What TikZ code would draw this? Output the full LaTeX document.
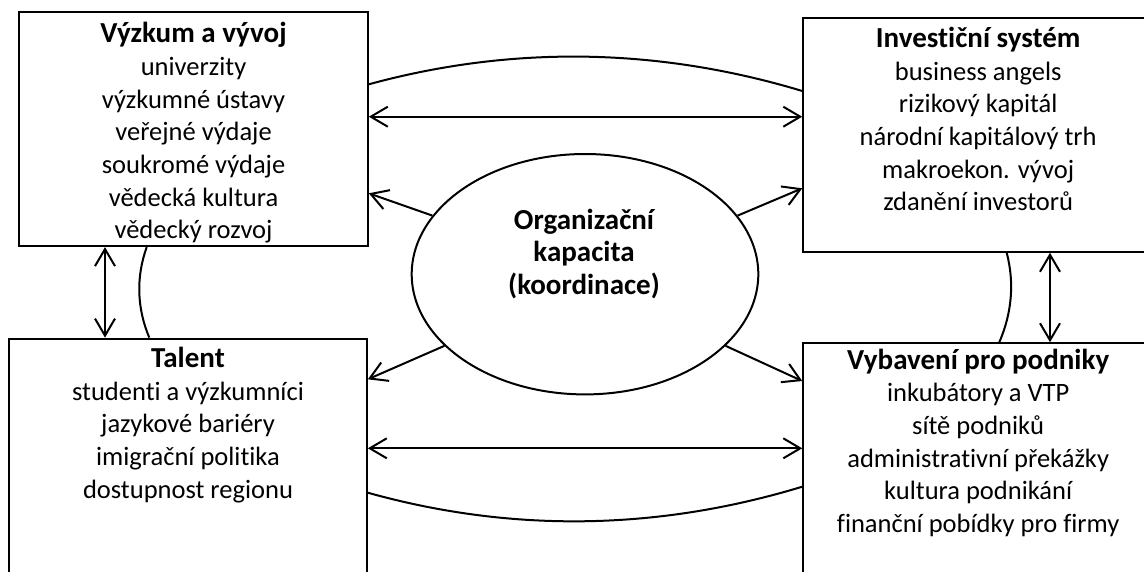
\documentclass[tikz,border=0pt]{standalone}
\usepackage{fontspec}
\setmainfont{Carlito}[Ligatures=NoCommon]
\usetikzlibrary{arrows.meta,shapes.geometric}
% bold heading of a box; the strut fixes the height of the first line
\newcommand\boxtitle[1]{\rule{0pt}{24pt}{\fontsize{29}{32.7}\selectfont\bfseries #1}}
\begin{document}
\lineskiplimit=-100pt
\begin{tikzpicture}[x=1pt,y=-1pt,
  box/.style={draw, line width=2.2pt, rectangle, inner sep=0pt},
  txt/.style={align=center, inner sep=0pt, anchor=north,
    font=\fontsize{26.5}{32.7}\selectfont},
  link/.style={line width=2pt},
  tip/.tip={Straight Barb[length=17pt,width=20pt]},
  dbl/.style={link, tip-tip},
  one/.style={link, -tip},
]
\useasboundingbox (0,0) rectangle (1144,571);
\clip (0,0) rectangle (1144,571);

% the four boxes
\node[box, minimum width=348.4pt, minimum height=234.3pt] (rd)  at (193.5,128.85) {};
\node[box, minimum width=349.7pt, minimum height=233.4pt] (inv) at (978.2,135) {};
\node[box, minimum width=357.4pt, minimum height=251.3pt] (tal) at (188,464.35) {};
\node[box, minimum width=349.7pt, minimum height=246.7pt] (vyb) at (978.2,466.65) {};

% central ellipse
\node[draw, ellipse, line width=2pt, inner sep=0pt,
      minimum width=346.6pt, minimum height=240.4pt] (org) at (585,274.2) {};

% texts
\node[txt] (rdt) at (193.5,18.5) {\boxtitle{Výzkum a vývoj}\\
  univerzity\\ výzkumné ústavy\\ veřejné výdaje\\ soukromé výdaje\\
  vědecká kultura\\ vědecký rozvoj};
\node[txt] (invt) at (978.2,23.2) {\boxtitle{Investiční systém}\\
  business angels\\ rizikový kapitál\\ národní kapitálový trh\\
  makroekon. vývoj\\ zdanění investorů};
\node[txt] (talt) at (188,343.2) {\boxtitle{Talent}\\
  studenti a výzkumníci\\ jazykové bariéry\\ imigrační politika\\
  dostupnost regionu};
\node[txt] (vybt) at (978.2,344.8) {\boxtitle{Vybavení pro podniky}\\
  inkubátory a VTP\\ sítě podniků\\ administrativní překážky\\
  kultura podnikání\\ finanční pobídky pro firmy};
\node[txt] (orgt) at (584,204.8) {\boxtitle{Organizační}\\
  {\fontsize{29}{32.5}\selectfont\bfseries kapacita}\\
  {\fontsize{29}{32.5}\selectfont\bfseries (koordinace)}};

% reference levels for the connectors
\coordinate (yTop) at (0,116.7);
\coordinate (yBot) at (0,448.3);
\coordinate (xLeft) at (105,0);
\coordinate (xRight) at (1050,0);

% links between neighbouring boxes
\draw[dbl] (rd.east |- yTop) -- (inv.west |- yTop);
\draw[dbl] (tal.east |- yBot) -- (vyb.west |- yBot);
\draw[dbl] (xLeft |- rd.south) -- (xLeft |- tal.north);
\draw[dbl] (xRight |- inv.south) -- (xRight |- vyb.north);

% arcs
\draw[link] (rd.east |- 0,84.3) .. controls (512,45.2) and (658,47.5) .. (inv.west |- 0,91);
\draw[link] (tal.east |- 0,492.7) .. controls (512,533) and (658,530.5) .. (vyb.west |- 0,486.7);
\draw[link] (146.7,0 |- rd.south) .. controls (136,277) and (136.8,308) .. (149.3,0 |- tal.north);
\draw[link] (1006.7,0 |- inv.south) .. controls (1014.5,282.4) and (1012,312.9) .. (999.3,0 |- vyb.north);

% from the organisational capacity to each box
\draw[one] (org.159) -- (rd.east |- 0,193.3);
\draw[one] (org.21) -- (inv.west |- 0,188.3);
\draw[one] (org.207) -- (tal.east |- 0,379.3);
\draw[one] (org.333) -- (vyb.west |- 0,381);
\end{tikzpicture}
\end{document}
